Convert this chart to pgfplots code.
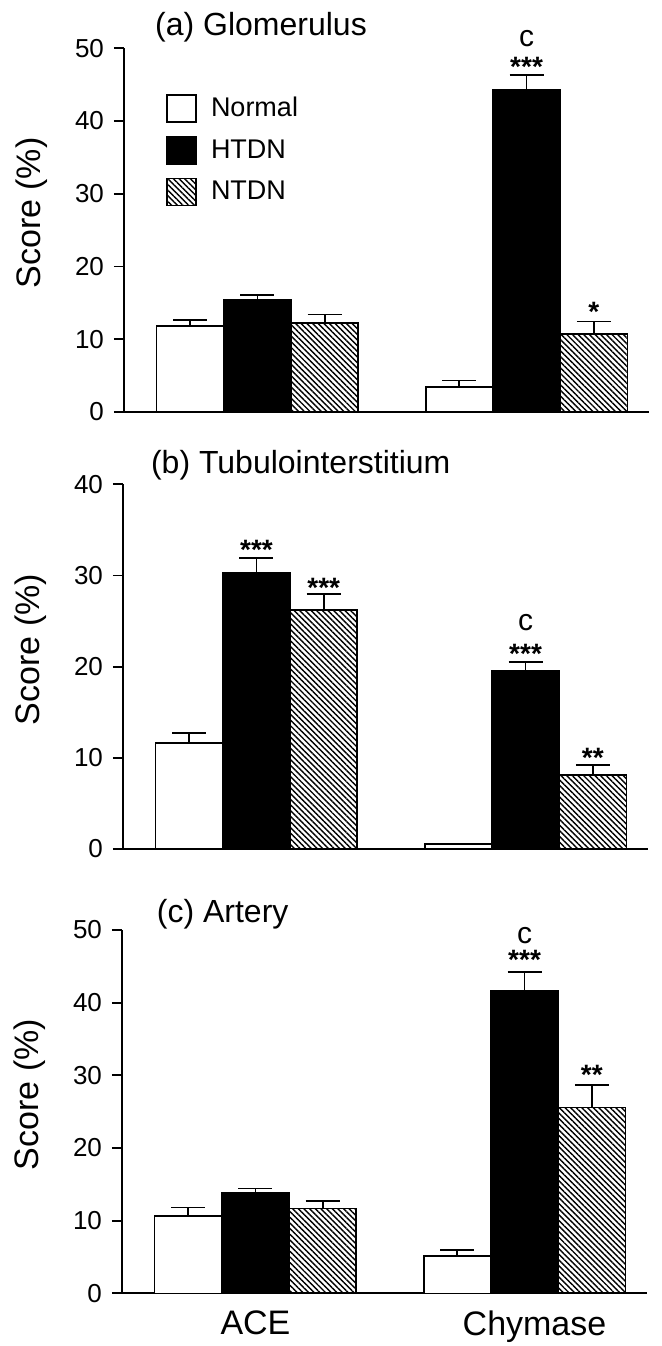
\documentclass[border=0pt]{standalone}
\usepackage{fontspec}
\setmainfont{Liberation Sans}
\usepackage{pgfplots}
\pgfplotsset{compat=1.18}
\usepackage{pgfplotstable}
\usetikzlibrary{patterns.meta}

% x: 0 = ACE, 1 = Chymase; e* = upper error (SEM)
\pgfplotstableread{
x normal enormal htdn ehtdn ntdn entdn
0 11.8 0.8 15.4 0.7 12.2 1.2
1 3.4 0.9 44.3 2.0 10.7 1.7
}\glom
\pgfplotstableread{
x normal enormal htdn ehtdn ntdn entdn
0 11.6 1.15 30.3 1.6 26.2 1.8
1 0.55 0.0 19.55 0.95 8.1 1.1
}\tubu
\pgfplotstableread{
x normal enormal htdn ehtdn ntdn entdn
0 10.6 1.2 13.8 0.6 11.7 1.0
1 5.1 0.9 41.6 2.6 25.6 3.1
}\arte

\pgfplotsset{
  panel/.style={
    scale only axis, width=262.5pt,
    xmin=-0.496, xmax=1.455, ymin=0,
    axis x line*=bottom, axis y line*=left,
    axis line style={line width=1pt,-},
    tick align=outside, major tick length=5pt,
    xtick={0,1.037}, xticklabels={}, x tick style={draw=none},
    y tick style={line width=0.9pt, black},
    yticklabel style={font=\fontsize{13}{15}\selectfont, xshift=-1.5pt},
    /pgf/number format/assume math mode=true,
    ylabel={\fontsize{17}{20}\selectfont Score (\%)},
    ylabel style={at={(axis description cs:-0.176,0.547)}, anchor=center},
    title style={anchor=west, yshift=-6pt, font=\fontsize{16}{19}\selectfont},
    clip=false,
    legend image code/.code={\draw[##1] (0pt,-6.75pt) rectangle (14.5pt,6.75pt);},
    error bars/error mark=|,
    error bars/error bar style={line width=0.8pt, black},
    error bars/error mark options={line width=0.8pt, black, mark size=8.5pt},
  },
  nbar/.style={ybar, bar shift=0pt, bar width=33.5pt, draw=black, line width=0.8pt, fill=white},
  hbar/.style={ybar, bar shift=0pt, bar width=33.5pt, draw=black, line width=0.8pt, fill=black},
  tbar/.style={ybar, bar shift=0pt, bar width=33.5pt, draw=black, line width=0.8pt,
    pattern={Lines[angle=-45,distance=2pt,line width=0.7pt]}, pattern color=black},
}
\tikzset{
  astx/.style={font=\fontsize{14}{16}\selectfont\bfseries},
  letc/.style={font=\fontsize{15}{17}\selectfont},
}

\begin{document}
\begin{tikzpicture}
\useasboundingbox (0,0) rectangle (331pt,-673pt);

% (a) Glomerulus
\begin{axis}[panel, at={(62pt,-205.9pt)}, anchor=south west, height=181.75pt,
    ymax=50, ytick={0,10,...,50},
    title={(a) Glomerulus}, title style={at={(axis description cs:0.046,1.058)}},
    legend style={at={(axis description cs:0.08,0.878)}, anchor=north west, draw=none, fill=none,
      inner sep=0pt, row sep=6pt, column sep=5pt, font=\fontsize{13.5}{16}\selectfont},
    legend cell align=left]
\addplot[nbar, error bars/.cd, y dir=plus, y explicit] table[x expr=\thisrow{x}-0.25, y=normal, y error=enormal] {\glom};
\addplot[hbar, error bars/.cd, y dir=plus, y explicit] table[x=x, y=htdn, y error=ehtdn] {\glom};
\addplot[tbar, error bars/.cd, y dir=plus, y explicit] table[x expr=\thisrow{x}+0.25, y=ntdn, y error=entdn] {\glom};
\legend{Normal, HTDN, NTDN}
\node[letc] at (axis cs:1,51.4) {c};
\node[astx] at (axis cs:1,47.4) {***};
\node[astx] at (axis cs:1.25,13.8) {*};
\end{axis}

% (b) Tubulointerstitium
\begin{axis}[panel, at={(61.5pt,-424.5pt)}, anchor=south west, height=182.35pt,
    ymax=40, ytick={0,10,...,40},
    title={(b) Tubulointerstitium}, title style={at={(axis description cs:0.040,1.053)}}]
\addplot[nbar, error bars/.cd, y dir=plus, y explicit] table[x expr=\thisrow{x}-0.25, y=normal, y error=enormal] {\tubu};
\addplot[hbar, error bars/.cd, y dir=plus, y explicit] table[x=x, y=htdn, y error=ehtdn] {\tubu};
\addplot[tbar, error bars/.cd, y dir=plus, y explicit] table[x expr=\thisrow{x}+0.25, y=ntdn, y error=entdn] {\tubu};
\node[astx] at (axis cs:0,32.85) {***};
\node[astx] at (axis cs:0.25,28.65) {***};
\node[letc] at (axis cs:1,24.8) {c};
\node[astx] at (axis cs:1,21.45) {***};
\node[astx] at (axis cs:1.25,10.05) {**};
\end{axis}

% (c) Artery
\begin{axis}[panel, at={(61pt,-646.65pt)}, anchor=south west, height=181.65pt,
    ymax=50, ytick={0,10,...,50},
    title={(c) Artery}, title style={at={(axis description cs:0.053,1.044)}},
    xticklabels={ACE, Chymase}, xticklabel style={font=\fontsize{17}{20}\selectfont}]
\addplot[nbar, error bars/.cd, y dir=plus, y explicit] table[x expr=\thisrow{x}-0.25, y=normal, y error=enormal] {\arte};
\addplot[hbar, error bars/.cd, y dir=plus, y explicit] table[x=x, y=htdn, y error=ehtdn] {\arte};
\addplot[tbar, error bars/.cd, y dir=plus, y explicit] table[x expr=\thisrow{x}+0.25, y=ntdn, y error=entdn] {\arte};
\node[letc] at (axis cs:1,49.3) {c};
\node[astx] at (axis cs:1,45.9) {***};
\node[astx] at (axis cs:1.25,30.1) {**};
\end{axis}
\end{tikzpicture}
\end{document}
